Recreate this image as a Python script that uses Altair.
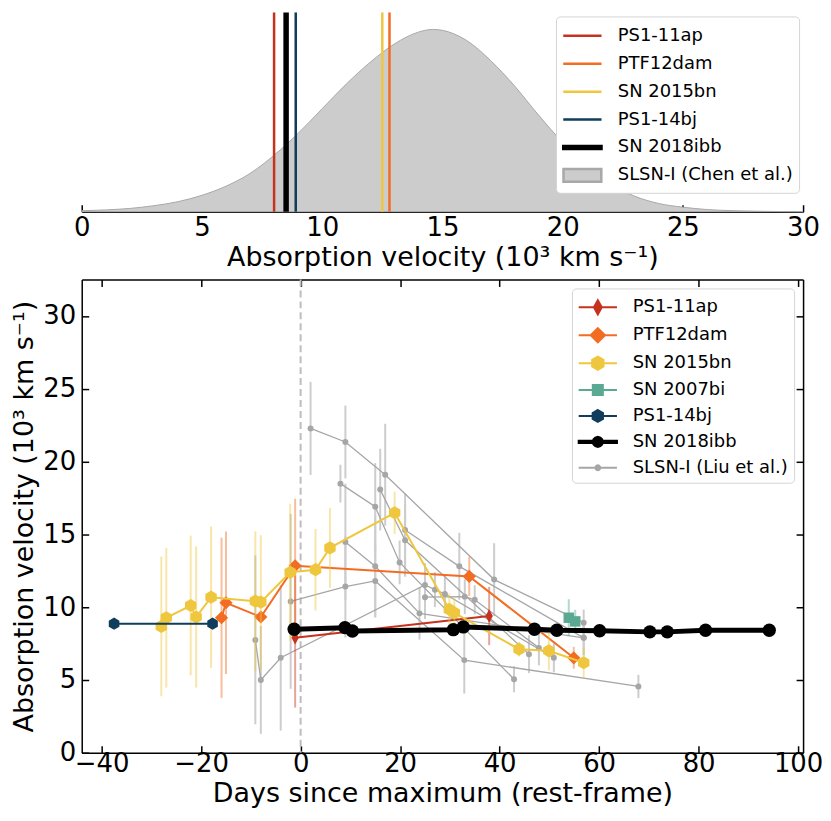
import math
import altair as alt
import pandas as pd

FONT = "DejaVu Sans"

# ---------------- top panel data ----------------
chen_vel = [0, 1, 2, 3, 4, 5, 6, 7, 8, 9, 10, 11, 12, 13, 14, 14.6, 15, 16, 17, 18,
            19, 20, 21, 22, 23, 24, 25, 26, 27, 28, 29, 30]
chen_density = [0.005, 0.010, 0.018, 0.033, 0.055, 0.09, 0.14, 0.21, 0.31, 0.43, 0.565,
                0.70, 0.82, 0.92, 0.985, 1.0, 0.995, 0.94, 0.83, 0.69, 0.53, 0.38, 0.25,
                0.15, 0.085, 0.045, 0.025, 0.012, 0.006, 0.003, 0.001, 0.0]
chen_name = "SLSN-I (Chen et al.)"
top_names = ["PS1-11ap", "PTF12dam", "SN 2015bn", "PS1-14bj", "SN 2018ibb"]
top_vel = [8.0, 12.8, 12.5, 8.9, 8.5]
top_colors = ["#c5321e", "#f26c22", "#efc73f", "#0f3d5b", "#000000"]

# ---------------- bottom panel data ----------------
series_names = ["PS1-11ap", "PTF12dam", "SN 2015bn", "SN 2007bi", "PS1-14bj",
                "SN 2018ibb", "SLSN-I (Liu et al.)"]
series_colors = ["#c5321e", "#f26c22", "#efc73f", "#5aa993", "#0f3d5b", "#000000", "#a6a6a6"]

ps1_11ap_t = [-1.1, 37.9]
ps1_11ap_v = [7.9, 9.39]
ps1_11ap_e = [4.8, 2.0]

ptf12dam_t = [-15.9, -15.0, -8.0, -1.1, 33.9, 54.9]
ptf12dam_v = [9.27, 10.3, 9.32, 12.84, 12.11, 6.52]
ptf12dam_e = [5.5, 4.9, 0.4, 4.6, 1.35, 0.75]

sn2015bn_t = [-28.0, -27.0, -22.1, -21.0, -18.0, -9.1, -8.0, -2.1, 3.0, 5.9, 18.9,
              29.9, 30.9, 43.9, 49.9, 56.9]
sn2015bn_v = [8.68, 9.27, 10.11, 9.32, 10.68, 10.41, 10.34, 12.39, 12.57, 14.07, 16.48,
              9.84, 9.61, 7.11, 7.0, 6.18]
sn2015bn_e = [4.8, 4.8, 4.8, 4.85, 4.85, 4.8, 4.6, 4.7, 2.8, 2.75, 1.45,
              1.1, 1.0, 0.5, 1.35, 1.0]

sn2007bi_t = [53.9, 55.2]
sn2007bi_v = [9.27, 9.02]
sn2007bi_e = [1.27, 0.8]

ps1_14bj_t = [-37.5, -17.7]
ps1_14bj_v = [8.86, 8.86]
ps1_14bj_e = [0.15, 0.15]

sn2018ibb_t = [-1.3, 8.9, 10.4, 30.7, 32.7, 47.0, 51.5, 60.1, 70.2, 73.7, 81.4, 94.2]
sn2018ibb_v = [8.48, 8.59, 8.36, 8.45, 8.64, 8.48, 8.41, 8.38, 8.30, 8.30, 8.41, 8.41]
sn2018ibb_e = [0.15] * 12

# Liu et al. SLSN-I tracks
liu_t = [
    [2.0, 9.0, 17.0, 38.9, 56.9],
    [8.0, 15.0, 19.9, 42.9],
    [16.0, 21.0, 45.9],
    [9.0, 15.0, 23.9, 56.9],
    [-2.0, 9.0, 15.0, 32.9, 67.9],
    [-9.1, -8.0, -4.0, 25.0, 27.0, 29.0, 50.9],
    [25.0, 33.0, 35.0, 47.9],
    [21.0, 31.9, 56.9],
]
liu_v = [
    [22.27, 21.34, 19.09, 11.89, 8.93],
    [18.48, 16.89, 13.07, 5.05],
    [18.07, 14.59, 6.77],
    [14.48, 12.8, 9.57, 7.89],
    [10.39, 11.41, 11.8, 6.36, 4.55],
    [7.75, 5.0, 6.52, 11.52, 11.2, 10.9, 6.52],
    [10.68, 10.72, 10.5, 7.2],
    [15.3, 12.8, 7.89],
]
liu_e = [
    [3.2, 2.5, 3.5, 2.5, 0.9],
    [1.3, 3.0, 1.5, 0.9],
    [2.8, 2.5, 1.3],
    [4.0, 3.5, 1.8, 1.2],
    [6.0, 3.5, 2.5, 2.3, 0.8],
    [5.8, 3.7, 5.0, 1.5, 1.2, 1.3, 1.0],
    [1.5, 1.2, 1.0, 1.2],
    [2.5, 2.3, 1.2],
]

# ---------------- tables ----------------
chen_df = pd.DataFrame({"vel": chen_vel, "dens": chen_density})
top_df = pd.DataFrame({"name": top_names, "vel": top_vel})
top_leg_df = pd.DataFrame({"name": top_names + [chen_name]})

named = [
    ("PS1-11ap", ps1_11ap_t, ps1_11ap_v, ps1_11ap_e),
    ("PTF12dam", ptf12dam_t, ptf12dam_v, ptf12dam_e),
    ("SN 2015bn", sn2015bn_t, sn2015bn_v, sn2015bn_e),
    ("SN 2007bi", sn2007bi_t, sn2007bi_v, sn2007bi_e),
    ("PS1-14bj", ps1_14bj_t, ps1_14bj_v, ps1_14bj_e),
    ("SN 2018ibb", sn2018ibb_t, sn2018ibb_v, sn2018ibb_e),
]
rows = []
for name, ts, vs, es in named:
    for t, v, e in zip(ts, vs, es):
        rows.append({"series": name, "t": t, "v": v, "lo": v - e, "hi": v + e})
col_df = pd.DataFrame(rows)
leg_df = pd.DataFrame({"series": series_names})

grows = []
for k, (ts, vs, es) in enumerate(zip(liu_t, liu_v, liu_e)):
    for t, v, e in zip(ts, vs, es):
        grows.append({"track": k, "t": t, "v": v, "lo": v - e, "hi": v + e})
liu_df = pd.DataFrame(grows)

# ---------------- symbol paths ----------------
LINE = "M-1.6,0L1.6,0"
PAD = "M0,-0.6M0,0.6"   # invisible move-tos that give line symbols a marker-like height


def rect(w, h):
    return f"M{-w},{-h}L{w},{-h}L{w},{h}L{-w},{h}Z"


def poly(r, n=12):
    pts = []
    for k in range(n):
        a = 2 * math.pi * k / n
        pts.append(f"{r * math.cos(a):.3f},{r * math.sin(a):.3f}")
    return "M" + "L".join(pts) + "Z"


def make_legend(offset, stroke_w, row_pad=3):
    return alt.Legend(
        title=None, orient="top-right", offset=offset, padding=6, fillColor="white",
        strokeColor="#d4d4d4", cornerRadius=4, symbolSize=576, symbolOffset=7,
        labelOffset=22, rowPadding=row_pad, labelFontSize=18, labelFont=FONT,
        labelColor="black", labelLimit=400, symbolStrokeWidth=stroke_w,
    )


tick_in = alt.ExprRef(expr="-7")

# ---------------- top panel ----------------
tx = alt.Scale(domain=[0, 30], nice=False, zero=False)
ty = alt.Scale(domain=[0, 1.093], nice=False, zero=False)
top_axis = alt.Axis(orient="bottom", values=[0, 5, 10, 15, 20, 25, 30], tickSize=tick_in,
                    labelPadding=10, titlePadding=4)

top_leg_names = top_names + [chen_name]
tleg = make_legend(4, 2.5, 2)
top_stroke = alt.Scale(domain=top_leg_names, range=top_colors + ["#a8a8a8"])

top_leg = alt.Chart(top_leg_df).transform_filter("false").mark_point(
    filled=True, opacity=1
).encode(
    color=alt.Color("name:N", scale=alt.Scale(
        domain=top_leg_names,
        range=["transparent"] * 4 + ["#000000", "#cccccc"]), legend=tleg),
    stroke=alt.Stroke("name:N", scale=top_stroke, legend=tleg),
    shape=alt.Shape("name:N", scale=alt.Scale(
        domain=top_leg_names,
        range=[LINE + PAD] * 4 + [rect(1.6, 0.12) + PAD, rect(1.58, 0.54)]), legend=tleg),
)
area = alt.Chart(chen_df).mark_area(
    fill="#cccccc", stroke="#a8a8a8", strokeWidth=1, interpolate="monotone", opacity=1
).encode(
    x=alt.X("vel:Q", scale=tx, axis=top_axis, title="Absorption velocity (10³ km s⁻¹)"),
    y=alt.Y("dens:Q", scale=ty, axis=None),
)
rules = alt.Chart(top_df).transform_filter(alt.datum.name != "SN 2018ibb").mark_rule(
    opacity=1, strokeWidth=2.5
).encode(
    x=alt.X("vel:Q", scale=tx, axis=None),
    stroke=alt.Stroke("name:N", scale=top_stroke, legend=tleg),
)
rule_blk = alt.Chart(top_df).transform_filter(alt.datum.name == "SN 2018ibb").mark_rule(
    opacity=1, strokeWidth=5.5
).encode(
    x=alt.X("vel:Q", scale=tx, axis=None),
    stroke=alt.Stroke("name:N", scale=top_stroke, legend=tleg),
)
top = alt.layer(top_leg, area, rules, rule_blk).resolve_axis(
    x="independent", y="independent").properties(width=724, height=200)

# ---------------- bottom panel ----------------
xs = alt.Scale(domain=[-44, 101], nice=False, zero=False)
ys = alt.Scale(domain=[0, 32.5], nice=False, zero=False)
xvals = [-40, -20, 0, 20, 40, 60, 80, 100]
yvals = [0, 5, 10, 15, 20, 25, 30]
ax_b = alt.Axis(orient="bottom", values=xvals, tickSize=tick_in, labelPadding=5, titlePadding=4)
ax_l = alt.Axis(orient="left", values=yvals, tickSize=tick_in, labelPadding=13, titlePadding=4)
ax_t = alt.Axis(orient="top", values=xvals, tickSize=tick_in, labels=False)
ax_r = alt.Axis(orient="right", values=yvals, tickSize=tick_in, labels=False)

color_scale = alt.Scale(domain=series_names, range=series_colors)
bleg = make_legend(9, 2)


def cx(axis=None, title=None):
    return alt.X("t:Q", scale=xs, axis=axis, title=title)


def cy(field="v", axis=None, title=None):
    return alt.Y(f"{field}:Q", scale=ys, axis=axis, title=title)


def ccol():
    return alt.Color("series:N", scale=color_scale, legend=bleg)


leg_shapes = [
    LINE + "M0,-0.6L0.33,0L0,0.6L-0.33,0Z",
    LINE + "M0,-0.6L0.6,0L0,0.6L-0.6,0Z",
    LINE + "M0,-0.55L0.476,-0.275L0.476,0.275L0,0.55L-0.476,0.275L-0.476,-0.275Z",
    LINE + rect(0.42, 0.42),
    LINE + "M0,-0.5L0.433,-0.25L0.433,0.25L0,0.5L-0.433,0.25L-0.433,-0.25Z",
    rect(1.6, 0.1) + poly(0.42),
    LINE + poly(0.2),
]
bottom_leg = alt.Chart(leg_df).transform_filter("false").mark_point(
    filled=True, opacity=1
).encode(
    color=ccol(),
    stroke=alt.Stroke("series:N", scale=alt.Scale(domain=series_names, range=series_colors),
                      legend=bleg),
    shape=alt.Shape("series:N", scale=alt.Scale(domain=series_names, range=leg_shapes),
                    legend=bleg),
)

HEX = "M0,-1L0.866,-0.5L0.866,0.5L0,1L-0.866,0.5L-0.866,-0.5Z"
marker_shape = {"PS1-11ap": "M0,-1L0.55,0L0,1L-0.55,0Z", "PTF12dam": "diamond",
                "SN 2015bn": HEX, "SN 2007bi": "square", "PS1-14bj": HEX,
                "SN 2018ibb": "circle"}
marker_size = {"PS1-11ap": 180, "PTF12dam": 175, "SN 2015bn": 175, "SN 2007bi": 110,
               "PS1-14bj": 150, "SN 2018ibb": 180}
line_width = {"PS1-11ap": 2, "PTF12dam": 2, "SN 2015bn": 2, "SN 2007bi": 2,
              "PS1-14bj": 2, "SN 2018ibb": 5}

zero_line = alt.Chart(pd.DataFrame({"t": [0]})).mark_rule(
    color="#bdbdbd", strokeDash=[7, 4], strokeWidth=2
).encode(x=cx())

liu_err = alt.Chart(liu_df).mark_rule(color="#cdcdcd", strokeWidth=2).encode(
    x=cx(ax_b, "Days since maximum (rest-frame)"),
    y=cy("lo", ax_l, "Absorption velocity (10³ km s⁻¹)"),
    y2="hi:Q",
)
liu_line = alt.Chart(liu_df).mark_line(color="#a6a6a6", strokeWidth=1.3).encode(
    x=cx(), y=cy(), detail="track:N"
)
liu_pts = alt.Chart(liu_df).mark_point(filled=True, color="#a6a6a6", size=36, opacity=1).encode(
    x=cx(ax_t), y=cy("v", ax_r)
)

layers = [bottom_leg, zero_line, liu_err, liu_line, liu_pts]
for name, *_ in named:
    sub = alt.Chart(col_df).transform_filter(alt.datum.series == name)
    if name != "SN 2018ibb":
        layers.append(sub.mark_rule(strokeWidth=2, opacity=0.45).encode(
            x=cx(), y=cy("lo"), y2="hi:Q", color=ccol()))
    layers.append(sub.mark_line(strokeWidth=line_width[name], opacity=1).encode(
        x=cx(), y=cy(), color=ccol()))
    layers.append(sub.mark_point(filled=True, opacity=1, shape=marker_shape[name],
                                 size=marker_size[name]).encode(
        x=cx(), y=cy(), color=ccol()))

bottom = alt.layer(*layers).resolve_axis(x="independent", y="independent").properties(
    width=724, height=475)

chart = alt.vconcat(top, bottom, spacing=8).resolve_scale(
    x="independent", y="independent",
    color="independent", stroke="independent", shape="independent"
).resolve_legend(
    color="independent", stroke="independent", shape="independent"
).properties(padding={"left": 2, "top": 0, "right": 0, "bottom": 0}).configure_axis(
    labelFont=FONT, titleFont=FONT, labelFontSize=26, titleFontSize=27,
    titleFontWeight="normal", labelColor="black", titleColor="black",
    domainColor="black", tickColor="black", domainWidth=1.5, tickWidth=1.5,
    grid=False, labelFlush=False, labelOverlap=False,
).configure_view(stroke=None)

chart.save("out.html", embed_options={"renderer": "svg", "actions": False})
